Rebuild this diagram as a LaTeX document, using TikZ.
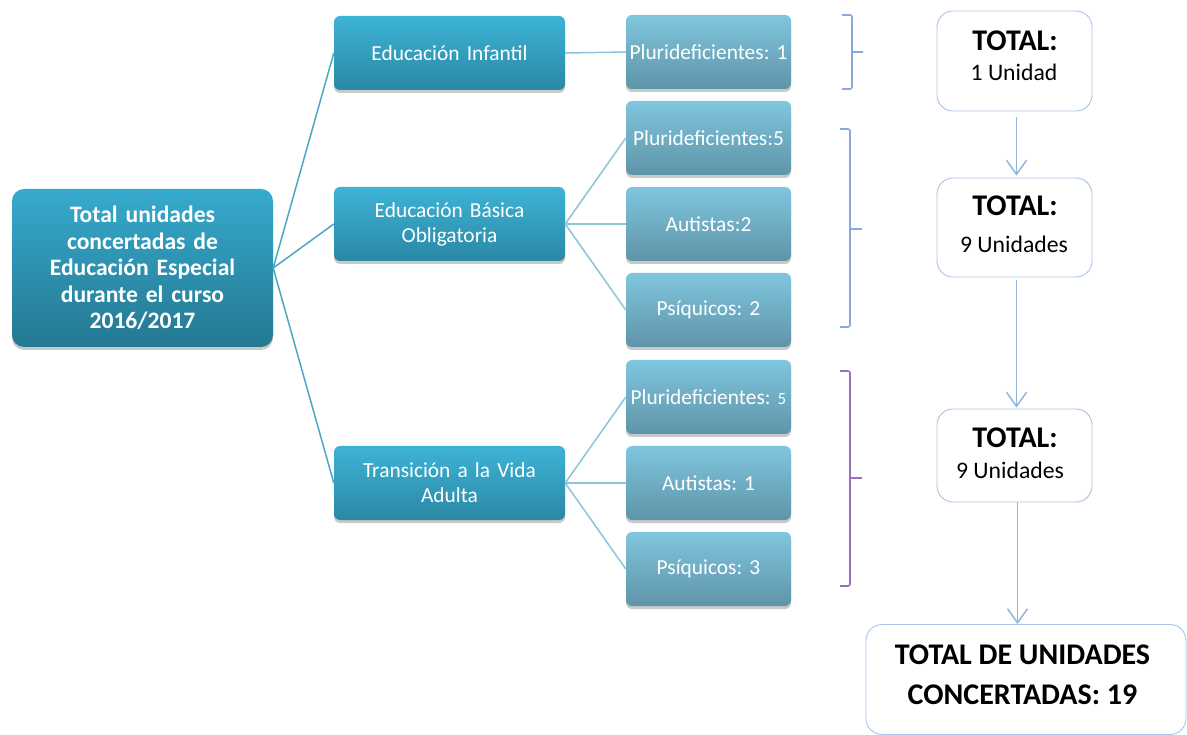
\documentclass[tikz,border=0pt]{standalone}
\usepackage{fontspec}
\setmainfont{Carlito}
\usetikzlibrary{shadows,arrows.meta}
\frenchspacing
\definecolor{mainTop}{HTML}{36AACD}
\definecolor{mainBot}{HTML}{247891}
\definecolor{lvTop}{HTML}{3DB3D6}
\definecolor{lvBot}{HTML}{2A88A4}
\definecolor{subTop}{HTML}{7FC6DF}
\definecolor{subBot}{HTML}{5F94A8}
\definecolor{linkA}{HTML}{4AA8C4}
\definecolor{linkB}{HTML}{8CC4D8}
\definecolor{brBlue}{HTML}{8AA8D8}
\definecolor{brPurple}{HTML}{9A6FC0}
\definecolor{boxLine}{HTML}{ABC4E6}
\definecolor{arrowC}{HTML}{94B4DE}
\tikzset{
  shad/.style={drop shadow={shadow xshift=0pt,shadow yshift=-3pt,opacity=0.35,fill=black!60}},
  mainbox/.style={shad,rounded corners=12pt,top color=mainTop,bottom color=mainBot,draw=none,
    minimum width=261pt,minimum height=158pt,text width=255pt,align=center,text=white,
    font=\bfseries\fontsize{23.6}{26.5}\selectfont,inner sep=0pt},
  lvbox/.style={shad,rounded corners=6pt,top color=lvTop,bottom color=lvBot,draw=none,
    minimum width=231pt,minimum height=74pt,text width=225pt,align=center,text=white,
    font=\fontsize{21.4}{25}\selectfont,inner sep=0pt},
  subbox/.style={shad,rounded corners=6pt,top color=subTop,bottom color=subBot,draw=none,
    minimum width=165pt,minimum height=74pt,text width=165pt,align=center,text=white,
    font=\fontsize{21.4}{24}\selectfont,inner sep=0pt},
  linkmain/.style={draw=linkA,line width=1.5pt},
  linksub/.style={draw=linkB,line width=1.5pt},
  totbox/.style={draw=boxLine,line width=0.9pt,rounded corners=16pt,fill=white,inner sep=0pt},
  tothead/.style={font=\bfseries\fontsize{30}{32}\selectfont,inner sep=0pt},
  totbody/.style={font=\fontsize{23.7}{26}\selectfont,inner sep=0pt},
  bigtxt/.style={font=\bfseries\fontsize{30}{32}\selectfont,inner sep=0pt},
  arr/.style={draw=arrowC,line width=1.5pt,-{Straight Barb[length=14pt,width=20pt,line width=1.5pt]}},
  brace/.style={line width=1.6pt,rounded corners=2pt}
}
\begin{document}
\begin{tikzpicture}[x=1pt,y=-1pt]
\useasboundingbox (0,0) rectangle (1187,735);
\clip (0,0) rectangle (1187,735);
\fill[white] (0,0) rectangle (1187,735);

% main node
\node[mainbox] (main) at (142.5,268) {Total unidades\\concertadas de\\Educación Especial\\durante el curso\\2016/2017};

% level 1
\node[lvbox] (inf) at (449.5,53) {Educación Infantil};
\node[lvbox] (bas) at (449.5,224) {Educación Básica\\Obligatoria};
\node[lvbox] (tra) at (449.5,483) {Transición a la Vida\\Adulta};

% level 2
\node[subbox] (p1) at (708.5,52) {Plurideficientes: 1};
\node[subbox] (p5a) at (708.5,138) {Plurideficientes:5};
\node[subbox] (a2) at (708.5,224) {Autistas:2};
\node[subbox] (s2) at (708.5,310) {Psíquicos: 2};
\node[subbox] (p5b) at (708.5,397) {Plurideficientes: {\fontsize{17}{20}\selectfont 5}};
\node[subbox] (a1) at (708.5,483) {Autistas: 1};
\node[subbox] (s3) at (708.5,569) {Psíquicos: 3};

% connectors
\draw[linkmain] (main.east) -- (inf.west);
\draw[linkmain] (main.east) -- (bas.west);
\draw[linkmain] (main.east) -- (tra.west);
\draw[linksub] (inf.east) -- (p1.west);
\draw[linksub] (bas.east) -- (p5a.west);
\draw[linksub] (bas.east) -- (a2.west);
\draw[linksub] (bas.east) -- (s2.west);
\draw[linksub] (tra.east) -- (p5b.west);
\draw[linksub] (tra.east) -- (a1.west);
\draw[linksub] (tra.east) -- (s3.west);

% brackets
\draw[brace,draw=brBlue] (842,15) -- (852,15) -- (852,89) -- (842,89);
\draw[draw=brBlue,line width=1.6pt] (852,52) -- (863,52);
\draw[brace,draw=brBlue] (840,129) -- (850,129) -- (850,327) -- (840,327);
\draw[draw=brBlue,line width=1.6pt] (850,229) -- (862,229);
\draw[brace,draw=brPurple] (840,371) -- (850,371) -- (850,586) -- (840,586);
\draw[draw=brPurple,line width=1.6pt] (850,478) -- (862,478);

% total boxes
\node[totbox,minimum width=155pt,minimum height=100pt] (t1) at (1014.5,61) {};
\node[tothead] (t1h) at (1015,41) {TOTAL:};
\node[totbody] (t1b) at (1014,72) {1 Unidad};

\node[totbox,minimum width=155pt,minimum height=99pt] (t2) at (1014.5,227.5) {};
\node[tothead] (t2h) at (1015,206) {TOTAL:};
\node[totbody] (t2b) at (1014,244) {9 Unidades};

\node[totbox,minimum width=155pt,minimum height=93pt] (t3) at (1014.5,455.5) {};
\node[tothead] (t3h) at (1015,438) {TOTAL:};
\node[totbody] (t3b) at (1010,470) {9 Unidades};

\node[totbox,minimum width=320pt,minimum height=110pt] (t4) at (1026,679.5) {};
\node[bigtxt] (t4a) at (1022.5,655) {TOTAL DE UNIDADES};
\node[bigtxt] (t4b) at (1022.5,695) {CONCERTADAS: 19};

% arrows
\draw[arr,shorten <=6pt,shorten >=2pt] ([xshift=2pt]t1.south) -- ([xshift=2pt]t2.north);
\draw[arr,shorten <=3pt,shorten >=1pt] ([xshift=2pt]t2.south) -- ([xshift=2pt]t3.north);
\draw[arr] ([xshift=3pt]t3.south) -- ([xshift=3pt]t3.south |- t4.north);
\end{tikzpicture}
\end{document}
